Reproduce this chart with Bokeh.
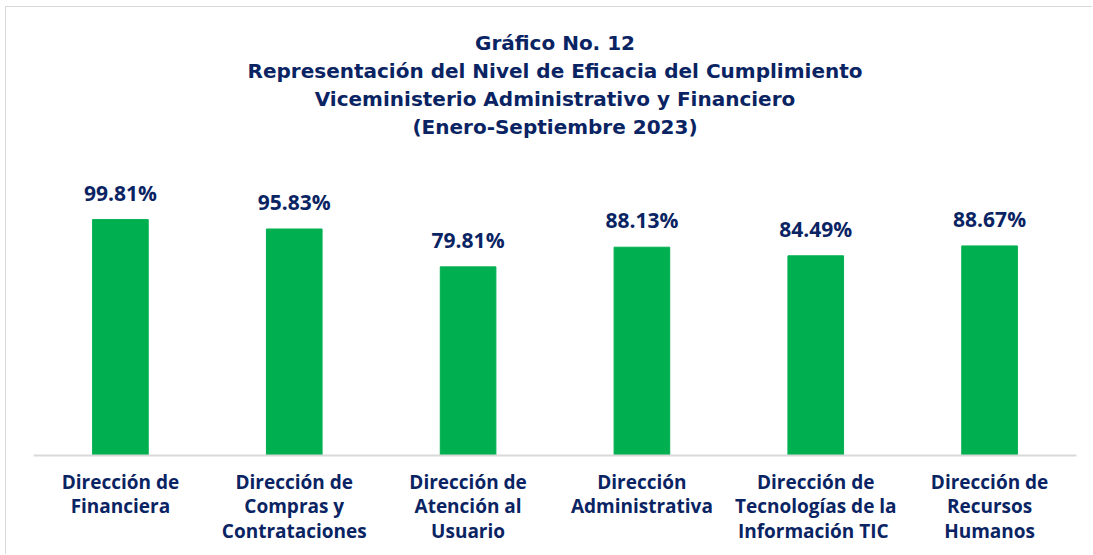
from bokeh.plotting import figure
from bokeh.models import ColumnDataSource, Range1d, FactorRange, LabelSet, Title
from bokeh.core.properties import value
from bokeh.embed import file_html
from bokeh.resources import INLINE

categories = [
    "Dirección de\nFinanciera",
    "Dirección de\nCompras y\nContrataciones",
    "Dirección de\nAtención al\nUsuario",
    "Dirección\nAdministrativa",
    "Dirección de\nTecnologías de la\nInformación  TIC",
    "Dirección de\nRecursos\nHumanos",
]
values = [99.81, 95.83, 79.81, 88.13, 84.49, 88.67]
value_labels = ["99.81%", "95.83%", "79.81%", "88.13%", "84.49%", "88.67%"]
title_lines = [
    "Gráfico No. 12",
    "Representación del Nivel de Eficacia del Cumplimiento",
    "Viceministerio Administrativo y Financiero",
    "(Enero-Septiembre 2023)",
]

NAVY = "#0A2463"
GREEN = "#00B050"
FONT = "Open Sans"
TITLE_FONT = "DejaVu Sans"

src = ColumnDataSource(dict(cat=categories, val=values, lab=value_labels))

p = figure(
    x_range=FactorRange(*categories, range_padding=0),
    y_range=Range1d(0, 133.7),
    width=1087, height=548,
    output_backend="svg", toolbar_location=None,
    min_border_left=27, min_border_right=17, min_border_top=132, min_border_bottom=100,
)
p.title = None
p.styles = {"border-left": "1px solid #D9D9D9", "border-top": "1px solid #D9D9D9",
            "margin-left": "5px", "margin-top": "6px"}
p.outline_line_color = None
p.background_fill_color = "white"
p.border_fill_color = "white"

p.vbar(x="cat", top="val", width=0.32, source=src, color=GREEN)

labels = LabelSet(x="cat", y="val", text="lab", source=src, text_align="center",
                  text_baseline="alphabetic", y_offset=19, text_color=NAVY,
                  text_font=value(FONT), text_font_style="bold", text_font_size="21px")
p.add_layout(labels)

for line in reversed(title_lines):
    p.add_layout(Title(text=line, align="center", text_color=NAVY,
                       text_font=TITLE_FONT, text_font_style="bold", text_font_size="20px",
                       standoff=2), "above")

p.yaxis.visible = False
p.xgrid.grid_line_color = None
p.ygrid.grid_line_color = None
p.xaxis.axis_line_color = "#D9D9D9"
p.xaxis.axis_line_width = 2
p.xaxis.major_tick_line_color = None
p.xaxis.minor_tick_line_color = None
p.xaxis.major_label_standoff = 7
p.xaxis.major_label_text_font = FONT
p.xaxis.major_label_text_font_style = "bold"
p.xaxis.major_label_text_font_size = "19px"
p.xaxis.major_label_text_color = NAVY
p.xaxis.major_label_text_line_height = 0.95

open("out.html", "w").write(file_html(p, INLINE))
